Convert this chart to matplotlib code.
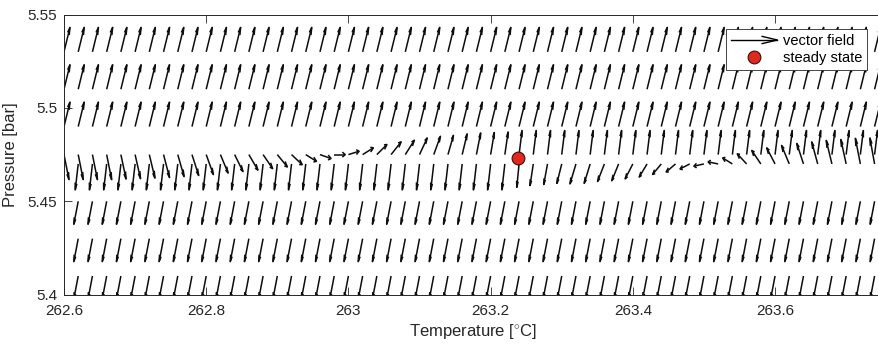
import numpy as np
import matplotlib
matplotlib.use("Agg")
import matplotlib.pyplot as plt
from matplotlib.lines import Line2D
from matplotlib.collections import LineCollection
from matplotlib.legend_handler import HandlerBase

plt.rcParams['font.family'] = ['Liberation Sans', 'DejaVu Sans']
plt.rcParams['mathtext.fontset'] = 'custom'
plt.rcParams['mathtext.rm'] = 'Liberation Sans'

# sampling grid of the phase plane
T_start, T_step, n_cols = 262.60, 0.02, 58
temperature = np.round(T_start + T_step * np.arange(n_cols), 3)

# rows of the grid [bar]
rows_down = [5.41, 5.43, 5.45]
rows_up = [5.49, 5.51, 5.53]
row_low = 5.470      # lower row next to the steady state
row_high = 5.475     # upper row next to the steady state

# vector components (1e-3 degC, 1e-3 bar)
down_vec = (-6.2, -12.3)
up_vec = (8.4, 13.1)
near_down_vec = (-4.2, -13.9)   # lower near row, left of the steady state
near_up_vec = (4.2, 12.9)       # upper near row, right of the steady state

# upper row next to the steady state, left part (columns 0..31)
high_dT = [7.0, 7.0, 7.0, 7.0, 7.3, 7.6, 7.9, 8.4, 8.9, 9.4, 10.1, 10.8,
           11.7, 12.7, 13.4, 14.1, 15.0, 15.0, 15.5, 15.5, 15.0, 15.0,
           14.1, 14.1, 12.7, 10.8, 9.4, 7.7, 7.0, 6.0, 5.2, 4.6]
high_dP = [-13.4, -13.4, -13.4, -13.4, -13.1, -12.9, -12.6, -12.3, -11.8,
           -11.2, -10.7, -9.9, -9.1, -8.3, -7.5, -6.6, -5.4, -3.6, -2.1,
           0.0, 1.8, 3.6, 5.4, 6.8, 7.7, 8.9, 9.8, 10.3, 11.1, 11.6, 11.8,
           12.1]

# lower row next to the steady state, right part (columns 32..57)
low_dT = [-3.2, -4.6, -5.3, -6.8, -8.4, -8.4, -9.6, -9.6, -10.8, -11.0,
          -12.2, -13.1, -13.6, -14.1, -14.1, -13.6, -13.1, -12.7, -11.7,
          -10.8, -9.4, -8.4, -8.0, -7.5, -7.0, -6.6]
low_dP = [-12.5, -11.6, -11.0, -10.4, -10.7, -10.4, -9.4, -9.0, -8.0, -7.0,
          -5.6, -4.3, -2.7, -1.2, 1.1, 3.2, 5.4, 7.2, 8.6, 9.9, 11.0, 11.8,
          12.6, 13.1, 13.7, 13.9]

# steady state
T_ss, P_ss = 263.238, 5.4732

# assemble the field
X, Y, U, V = [], [], [], []
for p in rows_down:
    X += list(temperature); Y += [p] * n_cols
    U += [down_vec[0]] * n_cols; V += [down_vec[1]] * n_cols
for p in rows_up:
    X += list(temperature); Y += [p] * n_cols
    U += [up_vec[0]] * n_cols; V += [up_vec[1]] * n_cols
n_left = len(high_dT)
X += list(temperature); Y += [row_low] * n_cols
U += [near_down_vec[0]] * n_left + low_dT
V += [near_down_vec[1]] * n_left + low_dP
X += list(temperature); Y += [row_high] * n_cols
U += high_dT + [near_up_vec[0]] * (n_cols - n_left)
V += high_dP + [near_up_vec[1]] * (n_cols - n_left)

X = np.array(X); Y = np.array(Y)
U = np.array(U) * 1e-3; V = np.array(V) * 1e-3

# quiver-style arrows: shaft plus two barbs built in data units
alpha, beta = 0.26, 0.33
Xe, Ye = X + U, Y + V
shafts = np.stack([np.column_stack([X, Y]), np.column_stack([Xe, Ye])], axis=1)
b1 = np.column_stack([Xe - alpha * (U + beta * V), Ye - alpha * (V - beta * U)])
b2 = np.column_stack([Xe - alpha * (U - beta * V), Ye - alpha * (V + beta * U)])
heads = np.stack([b1, np.column_stack([Xe, Ye]), b2], axis=1)

W, H = 879, 348
fig = plt.figure(figsize=(W / 100, H / 100), dpi=100)
ax_l, ax_r, ax_t, ax_b = 64, 881.7, 14.5, 294.7
ax = fig.add_axes([ax_l / W, 1 - ax_b / H, (ax_r - ax_l) / W, (ax_b - ax_t) / H])

arrow_col = '#0d0d0d'
ax.add_collection(LineCollection(list(shafts), colors=arrow_col,
                                 linewidths=1.1, zorder=2))
ax.add_collection(LineCollection(list(heads), colors=arrow_col,
                                 linewidths=1.1, zorder=2))
ax.plot([T_ss], [P_ss], 'o', ms=9.2, mfc='#e0281c', mec='#3a1010', mew=0.8,
        zorder=3)

ax.set_xlim(262.6, 263.75)
ax.set_ylim(5.4, 5.55)
ax.set_xticks([262.6, 262.8, 263.0, 263.2, 263.4, 263.6])
ax.set_xticklabels(['262.6', '262.8', '263', '263.2', '263.4', '263.6'])
ax.set_yticks([5.4, 5.45, 5.5, 5.55])
ax.set_yticklabels(['5.4', '5.45', '5.5', '5.55'])

axis_col = '#262626'
for s in ax.spines.values():
    s.set_color(axis_col)
    s.set_linewidth(0.7)
ax.tick_params(direction='in', length=6, width=0.6, colors=axis_col,
               labelsize=11, top=True, right=False, pad=5)
ax.tick_params(axis='x', pad=7)

ax.set_xlabel('Temperature [$^{\\circ}$C]', fontsize=12, color=axis_col,
              labelpad=3)
ax.set_ylabel('Pressure [bar]', fontsize=12, color=axis_col, labelpad=7)


class QuiverKey(HandlerBase):
    def create_artists(self, legend, orig_handle, xdescent, ydescent,
                       width, height, fontsize, trans):
        y = height / 2 - ydescent
        x0, x1 = -xdescent, width - xdescent
        shaft = Line2D([x0, x1], [y, y], color='k', lw=1.0)
        head = Line2D([x1 - 11, x1, x1 - 11], [y + 2.6, y, y - 2.6],
                      color='k', lw=1.0)
        for a in (shaft, head):
            a.set_transform(trans)
        return [shaft, head]


vec_handle = Line2D([], [], color='k')
ss_handle = Line2D([], [], marker='o', ls='none', ms=9.2, mfc='#e0281c',
                   mec='#3a1010', mew=0.8)
leg = ax.legend([vec_handle, ss_handle], ['vector field', 'steady state'],
                handler_map={vec_handle: QuiverKey()},
                loc='upper right', bbox_to_anchor=(867 / W, 1 - 29 / H),
                bbox_transform=fig.transFigure, borderaxespad=0,
                fancybox=False, framealpha=1, edgecolor=axis_col,
                fontsize=10.5, handlelength=3.2, handletextpad=0.35,
                borderpad=0.35, labelspacing=0.22)
leg.get_frame().set_linewidth(0.6)
leg.set_zorder(5)

fig.savefig('out.png', dpi=100)
